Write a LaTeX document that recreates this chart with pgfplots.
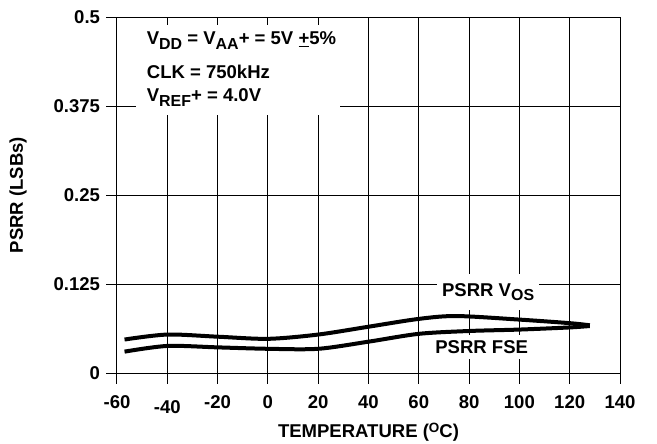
\documentclass[border=0pt]{standalone}
\usepackage{pgfplots}
\pgfplotsset{compat=1.18}
\usepackage{fontspec}
\setmainfont{Liberation Sans}
\newcommand\fs{\fontsize{18.6}{21}\selectfont\bfseries}
\newcommand\sub[1]{\raisebox{-4.5bp}{\fontsize{16}{16}\selectfont #1}}
\begin{document}
\begin{tikzpicture}
\useasboundingbox (-117bp,-71bp) rectangle (540bp,373bp);
\begin{axis}[
 at={(0,0)}, anchor=south west, scale only axis,
 width=503bp, height=356bp,
 xmin=-60, xmax=140, ymin=0, ymax=0.5,
 xtick={-60,-40,-20,0,20,40,60,80,100,120,140},
 xticklabels={-60,{\vphantom{0}\smash{\raisebox{-5bp}{-40}}},-20,0,20,40,60,80,100,120,140},
 ytick={0,0.125,0.25,0.375,0.5},
 yticklabels={0,0.125,0.25,0.375,0.5},
 grid=major, major grid style={black, line width=1bp},
 axis line style={black, line width=1bp},
 every tick/.style={black, line width=1bp},
 tick align=outside, major tick length=10.5bp,
 xtick pos=bottom, ytick pos=left,
 ticklabel style={font=\fs},
 xticklabel style={yshift=-9bp},
 yticklabel style={xshift=-3bp},
 every axis x label/.style={at={(axis description cs:0.5,0)}, yshift=-59bp, anchor=center, font=\fs},
 every axis y label/.style={at={(axis description cs:0,0.5)}, xshift=-99bp, rotate=90, anchor=center, font=\fs},
 xlabel={TEMPERATURE (\raisebox{5.5bp}{\fontsize{13.5}{13.5}\selectfont O}C)},
 ylabel={PSRR (LSBs)},
 clip=false,
]
\fill[white] (axis cs:-52.4,0.362) rectangle (axis cs:28.7,0.489);
\node[anchor=base west, font=\fs, inner sep=0pt] at (axis cs:-48.2,0.4607) {V\sub{DD} = V\sub{AA}+ = 5V \underline{+}5\%};
\node[anchor=base west, font=\fs, inner sep=0pt] at (axis cs:-48.2,0.4143) {CLK = 750kHz};
\node[anchor=base west, font=\fs, inner sep=0pt] at (axis cs:-48.2,0.381) {V\sub{REF}+ = 4.0V};
\node[anchor=base west, font=\fs, fill=white, inner xsep=5bp, inner ysep=9bp] at (axis cs:67.2,0.108) {PSRR V\sub{OS}};
\node[anchor=base west, font=\fs, fill=white, inner xsep=4bp, inner ysep=5bp] at (axis cs:64.9,0.0276) {PSRR FSE};
\addplot[black, line width=4bp, smooth, tension=0.5] coordinates {
(-57,0.047) (-40,0.054) (-20,0.051) (0,0.048) (20,0.054) (40,0.065) (60,0.076) (75,0.080) (100,0.075) (120,0.070) (128,0.067)};
\addplot[black, line width=4bp, smooth, tension=0.5] coordinates {
(-57,0.030) (-40,0.038) (-20,0.036) (0,0.034) (20,0.034) (40,0.044) (60,0.055) (80,0.059) (100,0.061) (120,0.064) (128,0.066)};
\end{axis}
\end{tikzpicture}
\end{document}
